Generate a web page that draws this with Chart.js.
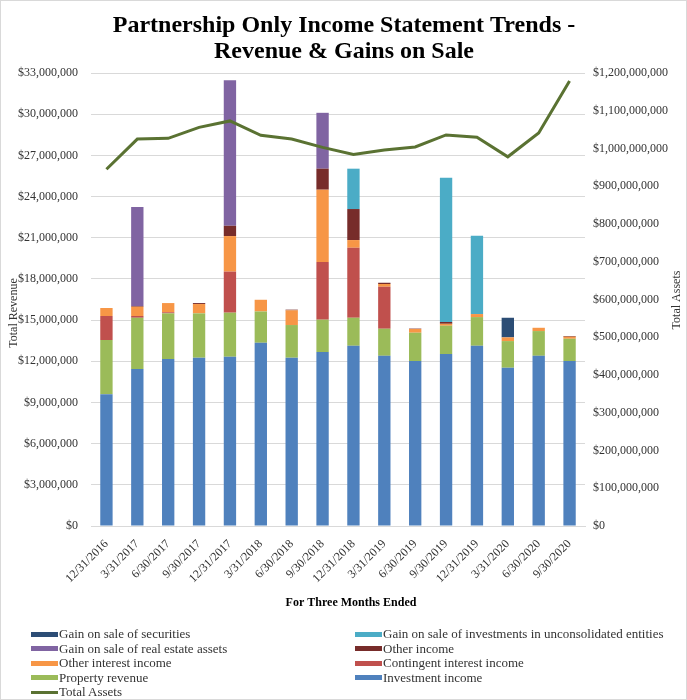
<!DOCTYPE html>
<html>
<head>
<meta charset="utf-8">
<script src="https://cdn.jsdelivr.net/npm/chart.js@4"></script>
<style>
  body { margin: 0; background: #fff; }
  #wrap { position: relative; width: 687px; height: 700px; }
  #frame { position: absolute; left: 0; top: 0; width: 687px; height: 700px; box-sizing: border-box; border: 1px solid #d9d9d9; pointer-events: none; }
  .lg { position: absolute; font: 13px "Liberation Serif", "Times New Roman", serif; color: #333; white-space: nowrap; line-height: 15px; }
  .sw { display: inline-block; width: 27px; height: 5px; vertical-align: middle; margin-right: 1px; margin-top: -2px; }
</style>
</head>
<body>
<div id="wrap">
  <canvas id="chart" width="687" height="700"></canvas>
  <div id="legend"></div>
  <div id="frame"></div>
</div>
<script>
var quarters = ["12/31/2016", "3/31/2017", "6/30/2017", "9/30/2017", "12/31/2017", "3/31/2018", "6/30/2018", "9/30/2018",
  "12/31/2018", "3/31/2019", "6/30/2019", "9/30/2019", "12/31/2019", "3/31/2020", "6/30/2020", "9/30/2020"];

var investmentIncome = [9600000, 11430000, 12160000, 12260000, 12330000, 13350000, 12260000, 12670000,
  13130000, 12400000, 12020000, 12530000, 13130000, 11530000, 12400000, 12020000];
var propertyRevenue = [3950000, 3740000, 3330000, 3230000, 3210000, 2280000, 2380000, 2360000,
  2040000, 1970000, 2060000, 2060000, 2090000, 1940000, 1800000, 1620000];
var contingentInterest = [1750000, 130000, 80000, 0, 2990000, 0, 0, 4200000,
  5100000, 3060000, 0, 0, 0, 0, 0, 0];
var otherInterest = [580000, 670000, 670000, 680000, 2590000, 850000, 1070000, 5270000,
  560000, 200000, 270000, 140000, 220000, 270000, 240000, 150000];
var otherIncome = [0, 50000, 0, 70000, 750000, 0, 50000, 1530000,
  2260000, 90000, 30000, 130000, 0, 0, 0, 50000];
var gainRealEstate = [0, 7210000, 0, 0, 10610000, 0, 0, 4070000,
  0, 0, 0, 0, 0, 0, 0, 0];
var gainUnconsolidated = [0, 0, 0, 0, 0, 0, 0, 0,
  2940000, 0, 0, 10510000, 5700000, 0, 0, 0];
var gainSecurities = [0, 0, 0, 0, 0, 0, 0, 0,
  0, 0, 0, 0, 0, 1430000, 0, 0];
var totalAssets = [945000000, 1025000000, 1027000000, 1056000000, 1073000000, 1035000000, 1025000000, 1003000000,
  984000000, 996000000, 1004000000, 1036000000, 1030000000, 978000000, 1041000000, 1179000000];

var serif = "'Liberation Serif', 'Times New Roman', serif";
var textColor = "#333333";

function money(v) { return "$" + Number(v).toLocaleString("en-US"); }

function bar(label, data, color) {
  return { type: "bar", label: label, data: data, backgroundColor: color, yAxisID: "y", order: 1,
    barPercentage: 0.8, categoryPercentage: 0.5 };
}

// titles drawn straight on the canvas so both axis titles read bottom-to-top like the original
var textPlugin = {
  id: "texts",
  afterDraw: function (chart) {
    var ctx = chart.ctx;
    ctx.save();
    ctx.fillStyle = "#000";
    ctx.textAlign = "center";
    ctx.textBaseline = "alphabetic";
    ctx.font = "bold 24px " + serif;
    ctx.fillText("Partnership Only Income Statement Trends -", 344, 32);
    ctx.fillText("Revenue & Gains on Sale", 344, 58);
    ctx.font = "bold 12px " + serif;
    ctx.fillText("For Three Months Ended", 351, 606);
    ctx.font = "12px " + serif;
    ctx.fillStyle = textColor;
    ctx.textBaseline = "middle";
    ctx.translate(14, 313);
    ctx.rotate(-Math.PI / 2);
    ctx.fillText("Total Revenue", 0, 0);
    ctx.restore();
    ctx.save();
    ctx.font = "12px " + serif;
    ctx.fillStyle = textColor;
    ctx.textAlign = "center";
    ctx.textBaseline = "middle";
    ctx.translate(677, 300);
    ctx.rotate(-Math.PI / 2);
    ctx.fillText("Total Assets", 0, 0);
    ctx.restore();
  }
};

new Chart("chart", {
  data: {
    labels: quarters,
    datasets: [
      { type: "line", label: "Total Assets", data: totalAssets, yAxisID: "y1", order: 0,
        borderColor: "#5A7232", borderWidth: 3, pointRadius: 0, tension: 0, fill: false },
      bar("Investment income", investmentIncome, "#4F81BD"),
      bar("Property revenue", propertyRevenue, "#9BBB59"),
      bar("Contingent interest income", contingentInterest, "#C0504D"),
      bar("Other interest income", otherInterest, "#F79646"),
      bar("Other income", otherIncome, "#772C2A"),
      bar("Gain on sale of real estate assets", gainRealEstate, "#8064A2"),
      bar("Gain on sale of investments in unconsolidated entities", gainUnconsolidated, "#4BACC6"),
      bar("Gain on sale of securities", gainSecurities, "#2C4D75")
    ]
  },
  options: {
    responsive: false,
    animation: false,
    layout: { padding: { top: 73, left: 0, right: 0, bottom: 85 } },
    plugins: { legend: { display: false }, title: { display: false }, tooltip: { enabled: false } },
    scales: {
      x: {
        stacked: true,
        grid: { display: false },
        border: { color: "#d9d9d9" },
        ticks: { font: { family: serif, size: 12 }, color: textColor, minRotation: 45, maxRotation: 45, autoSkip: false, padding: 3 },
        afterFit: function (s) { s.height = 89; }
      },
      y: {
        stacked: true,
        position: "left",
        min: 0, max: 33000000,
        grid: { color: "#d9d9d9", drawTicks: false },
        border: { display: false },
        ticks: { stepSize: 3000000, padding: 13, font: { family: serif, size: 12 }, color: textColor, callback: money },
        afterFit: function (s) { s.width = 91; }
      },
      y1: {
        position: "right",
        min: 0, max: 1200000000,
        grid: { display: false, drawTicks: false },
        border: { display: false },
        ticks: { stepSize: 100000000, padding: 8, font: { family: serif, size: 12 }, color: textColor, callback: money },
        afterFit: function (s) { s.width = 102; }
      }
    }
  },
  plugins: [textPlugin]
});

// legend in two columns, as in the original
var legendItems = [
  ["Gain on sale of securities", "#2C4D75", 0, 0],
  ["Gain on sale of investments in unconsolidated entities", "#4BACC6", 1, 0],
  ["Gain on sale of real estate assets", "#8064A2", 0, 1],
  ["Other income", "#772C2A", 1, 1],
  ["Other interest income", "#F79646", 0, 2],
  ["Contingent interest income", "#C0504D", 1, 2],
  ["Property revenue", "#9BBB59", 0, 3],
  ["Investment income", "#4F81BD", 1, 3],
  ["Total Assets", "#5A7232", 0, 4, true]
];
var lg = document.getElementById("legend");
legendItems.forEach(function (it) {
  var d = document.createElement("div");
  d.className = "lg";
  d.style.left = (it[2] ? 355 : 31) + "px";
  d.style.top = (626 + it[3] * 14.6) + "px";
  var sw = document.createElement("span");
  sw.className = "sw";
  sw.style.background = it[1];
  if (it[4]) { sw.style.height = "3px"; }
  d.appendChild(sw);
  d.appendChild(document.createTextNode(it[0]));
  lg.appendChild(d);
});
</script>
</body>
</html>
